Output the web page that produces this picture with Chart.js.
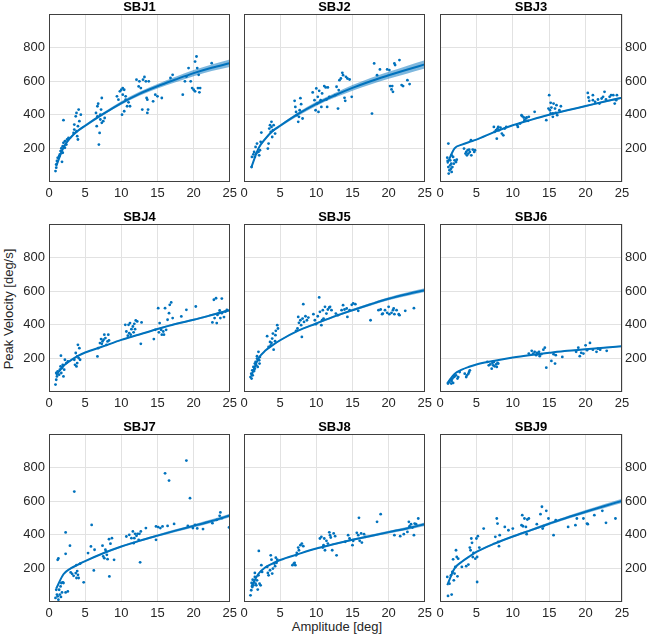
<!DOCTYPE html>
<html>
<head>
<meta charset="utf-8">
<script src="https://cdn.jsdelivr.net/npm/chart.js@4.4.1/dist/chart.umd.min.js"></script>
<style>
  html, body { margin: 0; padding: 0; background: #fff; overflow: hidden; }
  #page { position: relative; width: 647px; height: 639px; font-family: "Liberation Sans", Arial, sans-serif; color: #262626; }
  #page canvas { position: absolute; }
  .axlabel { position: absolute; font-size: 13px; white-space: nowrap; }
  #xlab { left: 337px; top: 626px; transform: translate(-50%, -50%); }
  #ylab { left: 8px; top: 309px; transform: translate(-50%, -50%) rotate(-90deg); }
</style>
</head>
<body>
<div id="page">
  <div class="axlabel" id="xlab">Amplitude [deg]</div>
  <div class="axlabel" id="ylab">Peak Velocity [deg/s]</div>
</div>
<script>
// ---- data ----
const subjects = ['SBJ1', 'SBJ2', 'SBJ3', 'SBJ4', 'SBJ5', 'SBJ6', 'SBJ7', 'SBJ8', 'SBJ9'];
const xTicks = [0, 5, 10, 15, 20, 25];
const yTicks = [200, 400, 600, 800];

// amplitudes where the fitted curve was read
const fitAmp = [1, 2, 3, 4, 5, 7.5, 10, 12.5, 15, 17.5, 20, 22.5, 25];

// fitted peak velocity, one list per subject
const fit1 = [95, 205, 265, 305, 335, 405, 470, 525, 570, 610, 648, 680, 707];
const fit2 = [85, 200, 260, 305, 335, 405, 465, 515, 560, 600, 635, 668, 700];
const fit3 = [110, 200, 222, 238, 252, 298, 338, 370, 400, 427, 452, 478, 502];
const fit4 = [100, 155, 188, 215, 235, 272, 310, 342, 375, 405, 430, 458, 487];
const fit5 = [95, 200, 248, 280, 308, 365, 408, 450, 487, 522, 555, 582, 606];
const fit6 = [52, 108, 133, 150, 164, 186, 205, 220, 233, 245, 254, 264, 273];
const fit7 = [80, 165, 200, 222, 243, 290, 330, 364, 395, 425, 453, 482, 515];
const fit8 = [90, 168, 208, 230, 250, 285, 318, 345, 370, 393, 416, 438, 463];
const fit9 = [100, 200, 240, 270, 298, 348, 390, 428, 466, 503, 537, 570, 602];

// half width of the confidence band around each fit
const ci1 = [6, 8, 8, 8, 8, 8, 10, 12, 14, 16, 18, 20, 22];
const ci2 = [6, 8, 8, 8, 8, 10, 12, 14, 17, 19, 21, 23, 25];
const ci3 = [3, 3, 3, 3, 3, 3, 3, 3, 4, 4, 5, 5, 6];
const ci4 = [3, 3, 3, 3, 3, 3, 3, 4, 4, 5, 6, 6, 7];
const ci5 = [3, 4, 4, 4, 4, 4, 5, 6, 7, 8, 9, 10, 11];
const ci6 = [2, 2, 2, 2, 2, 2, 2, 2, 3, 3, 3, 4, 4];
const ci7 = [3, 4, 4, 4, 4, 4, 5, 6, 7, 8, 9, 10, 11];
const ci8 = [3, 3, 3, 3, 3, 3, 4, 5, 6, 7, 8, 9, 10];
const ci9 = [3, 4, 4, 4, 4, 5, 6, 7, 8, 9, 10, 12, 13];

// measured saccades [amplitude, peak velocity]
const pts1 = [[0.9,65],[1.0,85],[1.0,105],[1.1,125],[1.2,144],[1.4,154],[1.5,164],[1.6,184],[1.7,200],[1.8,120],[1.9,174],[1.9,213],[2.0,233],[2.0,368],[2.2,204],[2.2,243],[2.4,223],[2.5,253],[2.7,263],[3.4,292],[3.5,342],[3.5,312],[3.7,391],[3.8,302],[3.8,411],[3.9,273],[4.0,253],[4.0,332],[4.1,431],[4.2,362],[4.4,401],[6.5,411],[6.6,332],[6.7,451],[6.7,391],[6.8,466],[6.9,223],[7.0,292],[7.1,372],[7.1,401],[7.2,431],[7.3,500],[7.3,352],[7.5,362],[7.7,381],[9.4,510],[9.6,490],[9.8,540],[10.0,549],[10.1,401],[10.2,559],[10.2,520],[10.4,421],[10.4,549],[10.6,510],[10.6,490],[10.8,451],[11.0,474],[11.2,451],[12.1,609],[12.4,569],[12.5,599],[12.7,559],[12.9,431],[13.0,609],[13.2,625],[13.4,599],[13.5,500],[13.6,411],[13.6,490],[13.7,431],[13.8,599],[14.4,480],[14.7,520],[15.0,510],[15.6,500],[16.8,619],[17.1,638],[18.5,520],[18.8,599],[19.0,628],[19.3,678],[19.6,599],[19.8,559],[20.0,549],[20.2,717],[20.2,540],[20.4,747],[20.5,678],[20.6,559],[20.7,638],[20.8,534],[20.9,559],[22.5,707]];
const pts2 = [[1.05,89],[1.1,149],[1.3,165],[1.4,179],[1.5,149],[1.6,209],[1.7,169],[1.8,229],[2.0,179],[2.1,159],[2.2,189],[2.3,239],[2.4,294],[3.3,199],[3.4,229],[3.5,318],[3.6,338],[3.7,298],[3.8,328],[3.8,358],[3.9,268],[4.0,308],[4.1,338],[4.3,288],[7.0,483],[7.1,447],[7.2,417],[7.3,398],[7.5,358],[7.6,388],[7.7,427],[7.8,499],[7.9,463],[8.1,378],[9.5,533],[9.75,487],[9.9,427],[10.0,557],[10.1,467],[10.2,507],[10.3,417],[10.4,543],[10.6,487],[10.7,447],[10.8,527],[11.1,571],[11.3,563],[11.4,491],[11.5,447],[11.6,563],[11.8,507],[12.6,517],[12.8,567],[13.0,437],[13.1,547],[13.2,606],[13.4,616],[13.6,650],[13.7,636],[13.9,501],[14.0,483],[14.1,626],[14.3,616],[14.6,610],[14.9,507],[17.7,407],[18.0,706],[18.4,636],[18.8,670],[19.8,670],[20.1,666],[20.2,571],[20.4,551],[20.5,571],[20.6,537],[20.8,706],[20.9,696],[21.5,726],[21.8,577],[22.0,571],[22.6,606],[22.9,583]];
const pts3 = [[1.15,229],[1.0,145],[1.05,125],[1.15,89],[1.2,50],[1.3,70],[1.4,99],[1.5,79],[1.55,109],[1.6,60],[1.7,89],[1.8,149],[1.9,109],[2.0,129],[2.2,119],[2.3,133],[1.4,129],[1.6,159],[3.3,199],[3.5,169],[3.6,179],[3.7,159],[3.8,189],[3.9,169],[4.0,193],[4.1,179],[4.25,249],[4.3,159],[4.5,193],[4.7,179],[4.8,189],[7.4,328],[7.5,298],[7.7,308],[7.8,258],[7.9,318],[8.0,328],[8.1,308],[8.3,324],[8.5,288],[8.7,278],[8.9,318],[9.1,328],[10.6,338],[10.7,328],[11.0,348],[11.2,398],[11.3,392],[11.5,384],[11.6,368],[11.8,378],[11.9,384],[12.1,364],[12.2,388],[13.0,418],[14.6,368],[14.9,437],[15.0,517],[15.1,427],[15.2,471],[15.2,408],[15.3,443],[15.5,408],[15.5,388],[15.6,467],[15.8,437],[15.9,412],[16.0,457],[16.1,398],[16.4,427],[16.6,451],[20.3,530],[20.4,503],[20.5,483],[21.0,487],[21.0,517],[21.3,477],[21.7,491],[21.9,467],[22.2,497],[22.4,507],[22.6,537],[22.8,491],[23.3,507],[23.5,517],[23.8,517],[24.0,467],[24.2,487],[24.3,517]];
const pts4 = [[0.9,44],[1.0,73],[1.0,113],[1.1,93],[1.2,123],[1.4,103],[1.5,133],[1.6,152],[1.65,216],[1.7,113],[1.8,143],[1.9,162],[2.0,93],[2.1,133],[2.2,192],[2.4,172],[2.6,182],[3.5,192],[3.6,162],[3.7,232],[3.8,152],[3.9,212],[3.9,172],[4.0,281],[4.1,202],[4.2,261],[4.3,192],[6.7,212],[6.8,261],[7.05,291],[7.2,315],[7.3,287],[7.4,301],[7.55,311],[7.65,341],[7.8,321],[7.95,281],[8.1,301],[8.2,341],[8.3,307],[10.55,400],[10.7,360],[10.9,335],[11.0,400],[11.1,350],[11.2,410],[11.3,341],[11.4,374],[11.6,390],[11.7,355],[11.8,406],[11.9,374],[12.0,426],[12.2,420],[12.7,287],[12.8,414],[14.5,315],[14.7,370],[15.1,499],[15.2,355],[15.3,410],[15.5,370],[15.6,341],[15.8,360],[15.9,341],[16.05,499],[16.2,370],[16.4,430],[16.6,469],[16.7,519],[16.9,533],[17.1,440],[18.3,450],[19.0,489],[20.3,509],[22.6,414],[22.8,549],[22.9,440],[23.1,558],[23.2,410],[23.3,459],[23.5,469],[23.6,485],[23.7,440],[23.9,556],[23.9,469],[24.2,446],[24.4,479],[24.6,489]];
const pts5 = [[0.9,89],[1.0,109],[1.05,80],[1.15,129],[1.2,99],[1.3,149],[1.4,125],[1.5,169],[1.5,139],[1.6,179],[1.7,159],[1.8,199],[1.8,213],[1.9,149],[2.0,239],[2.1,189],[2.15,169],[2.2,209],[3.2,332],[3.4,268],[3.6,298],[3.7,278],[3.8,292],[3.9,318],[4.0,348],[4.1,252],[4.3,302],[4.35,338],[4.4,364],[4.6,398],[4.7,378],[7.2,364],[7.4,378],[7.5,447],[7.6,412],[7.8,427],[7.9,398],[8.0,328],[8.1,437],[8.2,523],[8.3,417],[8.5,451],[8.7,427],[8.9,443],[9.6,463],[9.8,427],[9.95,404],[10.2,451],[10.4,563],[10.5,477],[10.7,398],[10.8,427],[10.9,487],[11.0,437],[11.2,507],[11.4,467],[11.6,491],[11.8,503],[11.9,507],[12.1,487],[12.7,467],[13.0,457],[13.5,487],[13.7,517],[13.9,491],[14.2,497],[14.3,447],[14.6,487],[14.9,519],[15.1,527],[15.4,523],[15.8,483],[17.5,427],[18.6,487],[18.9,491],[19.1,463],[19.2,467],[19.5,487],[19.8,471],[20.0,507],[20.1,463],[20.4,471],[20.6,487],[20.7,497],[20.8,463],[21.1,487],[21.4,463],[21.5,457],[22.3,483],[23.5,499]];
const pts6 = [[1.1,50],[1.3,60],[1.5,74],[1.55,50],[1.6,66],[1.7,80],[1.8,54],[1.9,89],[2.0,93],[2.2,99],[2.4,80],[2.5,89],[2.7,119],[3.4,109],[3.6,89],[3.7,99],[3.9,109],[4.0,119],[4.1,129],[6.5,179],[6.7,159],[6.9,165],[7.1,139],[7.2,173],[7.3,159],[7.4,179],[7.5,153],[7.7,165],[7.8,149],[7.9,173],[8.0,169],[12.2,229],[12.6,245],[12.8,229],[13.0,239],[13.2,219],[13.3,233],[13.5,225],[13.6,239],[13.7,213],[13.9,225],[14.2,252],[14.4,264],[14.6,145],[15.3,185],[15.6,225],[15.8,169],[15.9,219],[16.8,209],[18.7,239],[19.0,264],[19.2,213],[19.4,233],[19.7,229],[20.0,278],[20.2,249],[20.6,292],[21.0,252],[21.5,239],[21.7,258],[22.0,252],[22.9,245]];
const pts7 = [[0.9,24],[1.0,73],[1.1,44],[1.2,34],[1.3,14],[1.4,73],[1.5,44],[1.6,93],[1.65,30],[1.7,113],[1.8,57],[1.2,251],[1.3,259],[1.9,117],[2.0,113],[2.3,414],[2.3,287],[2.3,57],[2.6,63],[2.9,335],[3.0,176],[3.2,168],[3.4,156],[3.5,657],[3.7,172],[3.8,220],[3.8,143],[3.9,184],[4.0,162],[4.1,143],[4.3,228],[4.8,117],[5.4,291],[5.8,331],[5.9,459],[6.2,188],[6.3,311],[7.4,335],[7.5,271],[7.65,261],[7.8,311],[7.9,301],[8.0,281],[8.1,255],[8.3,374],[8.35,152],[8.5,347],[8.7,380],[9.0,251],[10.7,390],[11.1,400],[11.4,380],[11.6,420],[11.7,350],[11.8,380],[11.9,406],[12.1,394],[12.25,406],[12.4,370],[12.5,406],[12.6,236],[12.7,420],[13.4,440],[14.8,450],[14.8,370],[15.1,446],[15.4,440],[15.7,450],[16.05,766],[16.4,453],[16.6,723],[17.3,465],[19.0,842],[19.2,453],[19.5,618],[19.9,440],[20.2,459],[20.5,438],[21.3,434],[22.6,469],[23.2,489],[23.6,513],[23.7,533],[23.9,499],[24.9,444]];
const pts8 = [[0.9,40],[1.0,70],[1.05,113],[1.15,89],[1.2,133],[1.3,99],[1.4,119],[1.5,149],[1.5,173],[1.6,109],[1.7,99],[1.8,129],[1.9,74],[2.0,159],[2.05,304],[2.15,109],[2.3,99],[2.4,219],[2.5,179],[3.2,209],[3.3,173],[3.4,159],[3.6,189],[3.7,278],[3.8,252],[3.9,169],[4.0,199],[4.2,229],[4.3,213],[4.4,264],[4.5,233],[4.6,252],[6.7,219],[6.9,229],[7.0,233],[7.1,219],[7.2,278],[7.3,292],[7.5,324],[7.6,308],[7.8,338],[8.0,348],[8.2,332],[10.5,378],[10.7,388],[10.9,324],[11.0,338],[11.1,378],[11.2,308],[11.4,364],[11.6,348],[11.8,415],[11.9,398],[12.0,384],[12.2,308],[12.4,408],[12.6,392],[12.8,278],[14.0,358],[14.4,398],[14.6,378],[15.0,338],[15.1,364],[15.6,412],[15.8,398],[15.9,501],[16.0,364],[16.2,408],[16.3,354],[16.6,404],[16.8,388],[18.4,477],[18.9,523],[20.8,398],[21.6,392],[22.1,404],[22.6,417],[22.8,477],[22.9,451],[23.1,463],[23.3,443],[23.5,398],[23.6,467],[23.8,463],[24.1,497]];
const pts9 = [[1.0,149],[1.1,36],[1.3,109],[1.5,159],[1.6,44],[1.7,179],[1.8,254],[1.9,129],[2.0,169],[2.1,209],[2.2,308],[2.3,268],[2.4,153],[2.5,258],[3.0,209],[3.6,213],[3.9,223],[4.1,324],[4.2,308],[4.3,378],[4.4,352],[4.5,268],[4.6,292],[4.85,258],[5.0,378],[5.1,119],[5.1,268],[5.2,392],[5.4,324],[6.0,437],[7.6,388],[7.8,497],[7.9,467],[8.0,358],[8.1,332],[8.2,398],[8.9,447],[9.4,427],[10.0,437],[11.2,457],[11.3,517],[11.4,451],[11.6,497],[11.8,447],[11.9,404],[12.0,491],[12.2,497],[13.3,463],[13.8,523],[14.0,567],[14.1,437],[14.2,451],[14.6,543],[14.9,497],[15.6,398],[15.9,487],[17.6,447],[18.6,457],[18.8,497],[19.7,497],[20.2,467],[20.3,463],[21.2,517],[22.3,543],[22.8,471],[24.1,497]];

const allPts = [pts1, pts2, pts3, pts4, pts5, pts6, pts7, pts8, pts9];
const allFit = [fit1, fit2, fit3, fit4, fit5, fit6, fit7, fit8, fit9];
const allCi = [ci1, ci2, ci3, ci4, ci5, ci6, ci7, ci8, ci9];

// ---- layout ----
const plotLeft = [49, 244, 440];
const plotTop = [14, 224, 434];
const plotW = 182, plotH = 168;
const titleSpace = 14, xAxisH = 22;
const blue = '#0072BD';
const fontFamily = '"Liberation Sans", Arial, Helvetica, sans-serif';

const framePlugin = {
  id: 'frame',
  afterDraw(chart, args, opts) {
    const { ctx, chartArea: a } = chart;
    ctx.save();
    ctx.strokeStyle = '#404040';
    ctx.lineWidth = 1;
    ctx.strokeRect(Math.round(a.left) + 0.5, Math.round(a.top) + 0.5,
      Math.round(a.right - a.left) - 1, Math.round(a.bottom - a.top) - 1);
    ctx.font = 'bold 13px ' + fontFamily;
    ctx.fillStyle = '#000';
    ctx.textAlign = 'center';
    ctx.textBaseline = 'alphabetic';
    ctx.fillText(opts.title, (a.left + a.right) / 2, a.top - 3);
    ctx.restore();
  }
};

const page = document.getElementById('page');

subjects.forEach((name, i) => {
  const col = i % 3, row = Math.floor(i / 3);
  const yW = col === 0 ? 36 : (col === 2 ? 25 : 0);
  const padL = 10, padR = col === 2 ? 0 : 10;
  const leftW = col === 0 ? yW : 0;
  const rightW = col === 2 ? yW : 0;

  const canvas = document.createElement('canvas');
  canvas.width = padL + leftW + plotW + rightW + padR;
  canvas.height = titleSpace + plotH + xAxisH;
  canvas.style.left = (plotLeft[col] - padL - leftW) + 'px';
  canvas.style.top = (plotTop[row] - titleSpace) + 'px';
  page.appendChild(canvas);

  const fit = allFit[i], ci = allCi[i];
  const lineData = fitAmp.map((x, k) => ({ x: x, y: fit[k] }));
  const loData = fitAmp.map((x, k) => ({ x: x, y: fit[k] - ci[k] }));
  const hiData = fitAmp.map((x, k) => ({ x: x, y: fit[k] + ci[k] }));
  const ptData = allPts[i].map(p => ({ x: p[0], y: p[1] }));

  new Chart(canvas.getContext('2d'), {
    type: 'line',
    data: {
      datasets: [
        { data: ptData, showLine: false, pointRadius: 1.4, pointBackgroundColor: blue,
          pointBorderWidth: 0, order: 3 },
        { data: loData, borderWidth: 0, pointRadius: 0, fill: false, order: 2,
          cubicInterpolationMode: 'monotone' },
        { data: hiData, borderWidth: 0, pointRadius: 0, fill: '-1',
          backgroundColor: 'rgba(0,114,189,0.5)', order: 2,
          cubicInterpolationMode: 'monotone' },
        { data: lineData, borderColor: blue, borderWidth: 2, pointRadius: 0,
          fill: false, order: 1, cubicInterpolationMode: 'monotone' }
      ]
    },
    options: {
      responsive: false,
      animation: false,
      events: [],
      layout: { padding: { left: padL, right: padR, top: titleSpace, bottom: 0 } },
      plugins: {
        legend: { display: false },
        tooltip: { enabled: false },
        frame: { title: name }
      },
      scales: {
        x: {
          type: 'linear', min: 0, max: 25,
          afterBuildTicks: s => { s.ticks = xTicks.map(v => ({ value: v })); },
          afterFit: s => { s.height = xAxisH; },
          grid: { color: '#e2e2e2', drawTicks: false },
          border: { display: false },
          ticks: { padding: 4, color: '#262626', font: { size: 13, family: fontFamily },
            maxRotation: 0, autoSkip: false }
        },
        y: {
          type: 'linear', min: 0, max: 1000,
          position: col === 2 ? 'right' : 'left',
          afterBuildTicks: s => { s.ticks = yTicks.map(v => ({ value: v })); },
          afterFit: s => { s.width = yW; },
          grid: { color: '#e2e2e2', drawTicks: false },
          border: { display: false },
          ticks: { display: col !== 1, padding: col === 2 ? 3 : 4, color: '#262626',
            font: { size: 13, family: fontFamily }, autoSkip: false }
        }
      }
    },
    plugins: [framePlugin]
  });
});
</script>
</body>
</html>
